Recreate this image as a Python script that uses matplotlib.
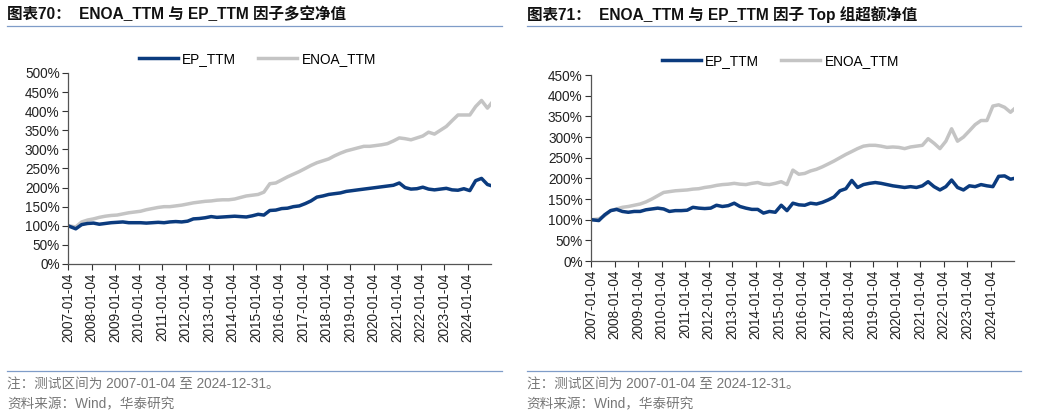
import pandas as pd
import matplotlib.pyplot as plt
import matplotlib.ticker as mticker
from matplotlib.lines import Line2D

plt.rcParams['font.family'] = ['Liberation Sans', 'Noto Sans CJK SC']

# quarterly sample dates, 2007-01-04 .. 2024-12-31
dates = list(pd.date_range('2007-01-04', periods=72, freq='3MS') + pd.Timedelta(days=3))
dates[0] = pd.Timestamp('2007-01-04')
dates.append(pd.Timestamp('2024-12-31'))

# chart 70: long-short net value (%)
l_ep = [100, 92, 103, 106, 107, 104, 106, 108, 109, 110, 108, 108,
        108, 107, 108, 109, 108, 110, 111, 110, 112, 118, 119, 121,
        124, 122, 123, 124, 125, 124, 123, 126, 130, 128, 140, 141,
        145, 146, 150, 152, 158, 165, 175, 178, 182, 184, 186, 190,
        192, 194, 196, 198, 200, 202, 204, 206, 212, 200, 196, 197,
        201, 196, 194, 196, 198, 194, 193, 197, 192, 218, 224, 208,
        205]
l_enoa = [100, 97, 110, 115, 118, 122, 125, 127, 128, 131, 134, 136,
          138, 142, 145, 148, 150, 150, 152, 154, 157, 160, 162, 164,
          165, 167, 168, 168, 170, 174, 178, 180, 182, 188, 210, 212,
          220, 228, 235, 242, 250, 258, 265, 270, 275, 283, 290, 296,
          300, 304, 308, 308, 310, 312, 315, 322, 330, 328, 325, 330,
          335, 345, 340, 350, 360, 375, 390, 390, 390, 412, 428, 408,
          420]

# chart 71: top-group excess net value (%)
r_ep = [100, 98, 112, 122, 125, 120, 118, 120, 120, 124, 126, 128,
        126, 120, 122, 122, 123, 130, 128, 127, 128, 135, 132, 134,
        140, 132, 128, 125, 125, 116, 120, 118, 135, 122, 140, 136,
        135, 140, 138, 142, 148, 155, 170, 175, 195, 178, 185, 188,
        190, 188, 185, 182, 180, 178, 180, 178, 182, 192, 180, 172,
        180, 196, 178, 172, 182, 180, 185, 182, 180, 205, 206, 198,
        200]
r_enoa = [100, 102, 110, 122, 126, 130, 132, 135, 138, 143, 150, 158,
          166, 168, 170, 171, 172, 174, 175, 178, 180, 183, 185, 186,
          188, 186, 185, 188, 190, 186, 185, 188, 192, 185, 220, 210,
          212, 218, 222, 228, 235, 242, 250, 258, 265, 272, 278, 280,
          280, 278, 275, 276, 275, 272, 276, 278, 280, 296, 285, 272,
          290, 320, 290, 300, 315, 330, 340, 340, 375, 378, 372, 360,
          368]

tick_dates = [pd.Timestamp(f'{y}-01-04') for y in range(2007, 2025)]
tick_labels = [d.strftime('%Y-%m-%d') for d in tick_dates]

navy = '#0B3B7E'
grey = '#C4C4C4'
rule = '#7F9CC8'

fig = plt.figure(figsize=(10.37, 4.17), dpi=100)

panels = [
    (0.0656, 0.367, 0.408, 0.458, l_ep, l_enoa, 500, '图表70：  ENOA_TTM 与 EP_TTM 因子多空净值', 0.007),
    (0.570, 0.374, 0.408, 0.446, r_ep, r_enoa, 450, '图表71：  ENOA_TTM 与 EP_TTM 因子 Top 组超额净值', 0.508),
]

for x0, y0, w, h, ep, enoa, ymax, title, tx in panels:
    ax = fig.add_axes([x0, y0, w, h])
    ax.plot(dates, enoa, color=grey, lw=2.5, label='ENOA_TTM')
    ax.plot(dates, ep, color=navy, lw=2.5, label='EP_TTM')
    ax.set_xlim(dates[0], dates[-1])
    ax.set_ylim(0, ymax)
    ax.yaxis.set_major_locator(mticker.MultipleLocator(50))
    ax.yaxis.set_major_formatter(mticker.FuncFormatter(lambda v, p: f'{v:.0f}%'))
    ax.set_xticks(tick_dates)
    ax.set_xticklabels(tick_labels, rotation=90)
    ax.tick_params(axis='both', labelsize=9.8, length=4, width=0.8, colors='#333333',
                   labelcolor='#222222', pad=2)
    for s in ['top', 'right']:
        ax.spines[s].set_visible(False)
    for s in ['left', 'bottom']:
        ax.spines[s].set_color('#555555')
        ax.spines[s].set_linewidth(0.9)
    handles = [Line2D([], [], color=navy, lw=2.5), Line2D([], [], color=grey, lw=2.5)]
    ax.legend(handles, ['EP_TTM', 'ENOA_TTM'], loc='lower center', bbox_to_anchor=(0.447, 1.0),
              ncol=2, frameon=False, fontsize=9.8, handlelength=2.9, columnspacing=1.6,
              handletextpad=0.3, borderaxespad=0.1)

    fig.text(tx, 0.966, title, fontsize=11.2, fontweight='bold', va='center', ha='left', color='#111111')
    fig.add_artist(Line2D([tx, tx + 0.477], [0.937, 0.937], color=rule, lw=0.9))
    fig.add_artist(Line2D([tx, tx + 0.477], [0.110, 0.110], color=rule, lw=0.9))
    fig.text(tx, 0.079, '注：测试区间为 2007-01-04 至 2024-12-31。', fontsize=9.8, color='#777777', va='center')
    fig.text(tx, 0.030, '资料来源：Wind，华泰研究', fontsize=9.8, color='#777777', va='center')

fig.savefig('out.png', dpi=100)
